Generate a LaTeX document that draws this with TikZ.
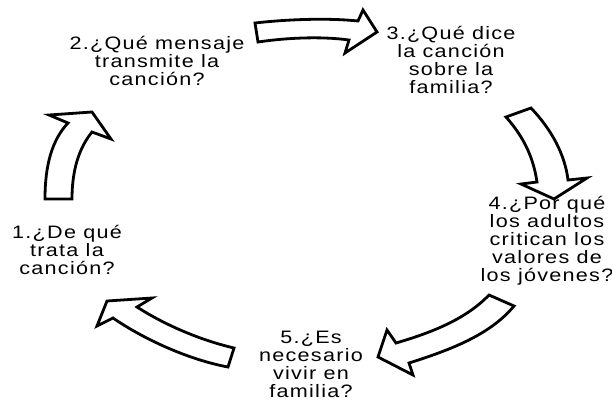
\documentclass[tikz,border=0pt]{standalone}
\usepackage{fontspec}
\setmainfont[FakeStretch=1.2,LetterSpace=7]{Liberation Sans}
\tikzset{
  bigarrow/.style={draw=black, line width=2.8pt, fill=white},
  label/.style={align=center, inner sep=0pt, font=\fontsize{18}{18}\selectfont}
}
\begin{document}
\begin{tikzpicture}[x=1pt,y=-1pt]
\useasboundingbox (0,0) rectangle (612,400);
% arrow 1 (left, upwards)
\draw[bigarrow] (45,199) -- (72,199) .. controls (72,170) and (79,148) .. (92,132)
  -- (111,139) -- (92,112) -- (49,115) -- (68,123)
  .. controls (52,140) and (45,165) .. (45,199) -- cycle;
% arrow 2 (top, right)
\draw[bigarrow] (255,23) .. controls (290,19) and (330,18) .. (358,21)
  -- (363,10) -- (377,32) -- (345,53) -- (349,40)
  .. controls (320,36) and (285,38) .. (258,42) -- cycle;
% arrow 3 (right top, down)
\draw[bigarrow] (506,117) -- (531,108) .. controls (552,130) and (565,155) .. (568,180)
  -- (587,178) -- (554,199) -- (521,184) -- (537,182)
  .. controls (533,155) and (522,135) .. (506,117) -- cycle;
% arrow 4 (right bottom, down-left)
\draw[bigarrow] (489,295) -- (514,306) .. controls (490,335) and (450,350) .. (409,363)
  -- (413,375) -- (378,357) -- (387,330) -- (396,343)
  .. controls (430,333) and (465,320) .. (489,295) -- cycle;
% arrow 5 (bottom, up-left)
\draw[bigarrow] (234,348) -- (228,367) .. controls (190,360) and (145,340) .. (113,318)
  -- (97,326) -- (107,301) -- (152,298) -- (137,307)
  .. controls (165,325) and (200,340) .. (234,348) -- cycle;
% labels
\node[label] (q1) at (67,250) {1.¿De qué\\trata la\\canción?};
\node[label] (q2) at (157,61) {2.¿Qué mensaje\\transmite la\\canción?};
\node[label] (q3) at (451,60) {3.¿Qué dice\\la canción\\sobre la\\familia?};
\node[label] (q4) at (547,241) {4.¿Por qué\\los adultos\\critican los\\valores de\\los jóvenes?};
\node[label] (q5) at (311,364) {5.¿Es\\necesario\\vivir en\\familia?};
\end{tikzpicture}
\end{document}
